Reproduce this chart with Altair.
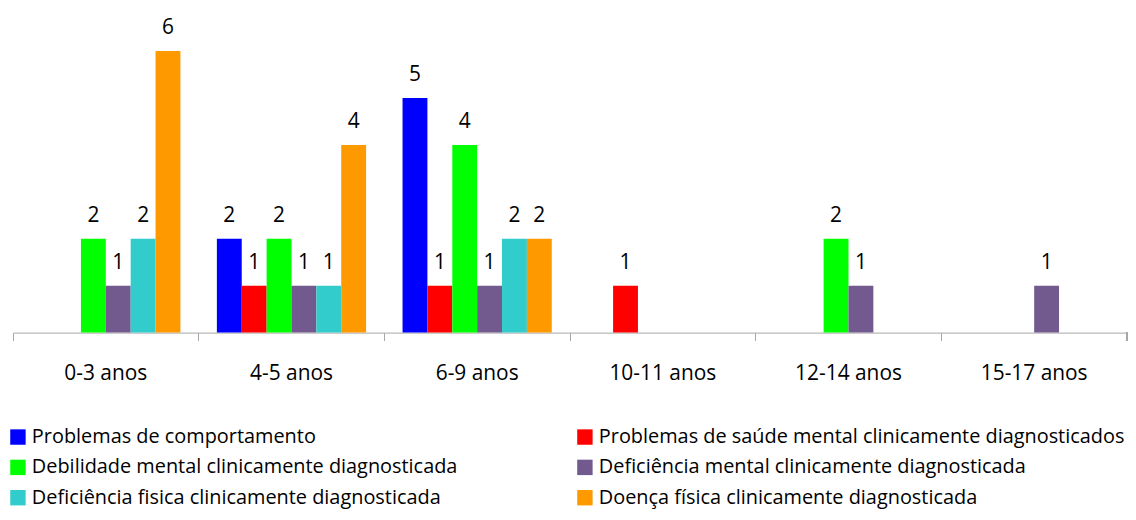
import altair as alt
import pandas as pd

categories = ["0-3 anos", "4-5 anos", "6-9 anos", "10-11 anos", "12-14 anos", "15-17 anos"]
series = [
    "Problemas de comportamento",
    "Problemas de saúde mental clinicamente diagnosticados",
    "Debilidade mental clinicamente diagnosticada",
    "Deficiência mental clinicamente diagnosticada",
    "Deficiência fisica clinicamente diagnosticada",
    "Doença física clinicamente diagnosticada",
]
colors = ["#0000FF", "#FF0000", "#00FF00", "#725A8F", "#33CCCC", "#FF9900"]

comportamento = [0, 2, 5, 0, 0, 0]
saude_mental = [0, 1, 1, 1, 0, 0]
debilidade = [2, 2, 4, 0, 2, 0]
deficiencia_mental = [1, 1, 1, 0, 1, 1]
deficiencia_fisica = [2, 1, 2, 0, 0, 0]
doenca_fisica = [6, 4, 2, 0, 0, 0]

values = [comportamento, saude_mental, debilidade, deficiencia_mental, deficiencia_fisica, doenca_fisica]
rows = []
for s, vals in zip(series, values):
    for c, v in zip(categories, vals):
        if v > 0:
            rows.append({"cat": c, "serie": s, "v": v})
df = pd.DataFrame(rows)

# legend fills column by column: order so rows read left-to-right like the original
legend_order = [0, 2, 4, 1, 3, 5]
leg_domain = [series[i] for i in legend_order]
leg_range = [colors[i] for i in legend_order]

FONT = "Open Sans"

x = alt.X("cat:N", sort=categories, scale=alt.Scale(domain=categories, paddingInner=0, paddingOuter=0),
          axis=alt.Axis(title=None, bandPosition=0, labelAngle=0, labelFontSize=21, labelFont=FONT,
                        labelColor="#000000", labelPadding=22, domainColor="#A6A6A6", tickColor="#A6A6A6",
                        tickSize=8, labelFontWeight="normal"))
xo = alt.XOffset("serie:N", sort=series, scale=alt.Scale(domain=series, paddingOuter=0.733, paddingInner=0))
y = alt.Y("v:Q", scale=alt.Scale(domain=[0, 6.89], nice=False, zero=True), axis=None)
color = alt.Color("serie:N", scale=alt.Scale(domain=leg_domain, range=leg_range),
                  legend=alt.Legend(title=None, orient="none", legendX=-5, legendY=420, columns=2,
                                    columnPadding=117, rowPadding=10.5, symbolType="square", symbolSize=240,
                                    symbolStrokeWidth=0, labelFontSize=20, labelFont=FONT, labelColor="#000000",
                                    labelLimit=700, padding=0, symbolOffset=0, labelOffset=4))

bars = alt.Chart(df).mark_bar(opacity=1).encode(x=x, xOffset=xo, y=y, color=color)
labels = alt.Chart(df).mark_text(baseline="alphabetic", dy=-17, fontSize=21, font=FONT, color="#000000").encode(
    x=x, xOffset=xo, y=y, text="v:Q")
endtick = alt.Chart(df).mark_rule(color="#A6A6A6").encode(
    x=alt.value(1120), y=alt.value(325), y2=alt.value(333))

chart = (bars + labels + endtick).properties(
    width=1120, height=325,
    padding={"left": 0, "top": 0, "right": 0, "bottom": 0},
).configure_view(stroke=None)

chart.save("out.html", embed_options={"renderer": "svg", "actions": False})
